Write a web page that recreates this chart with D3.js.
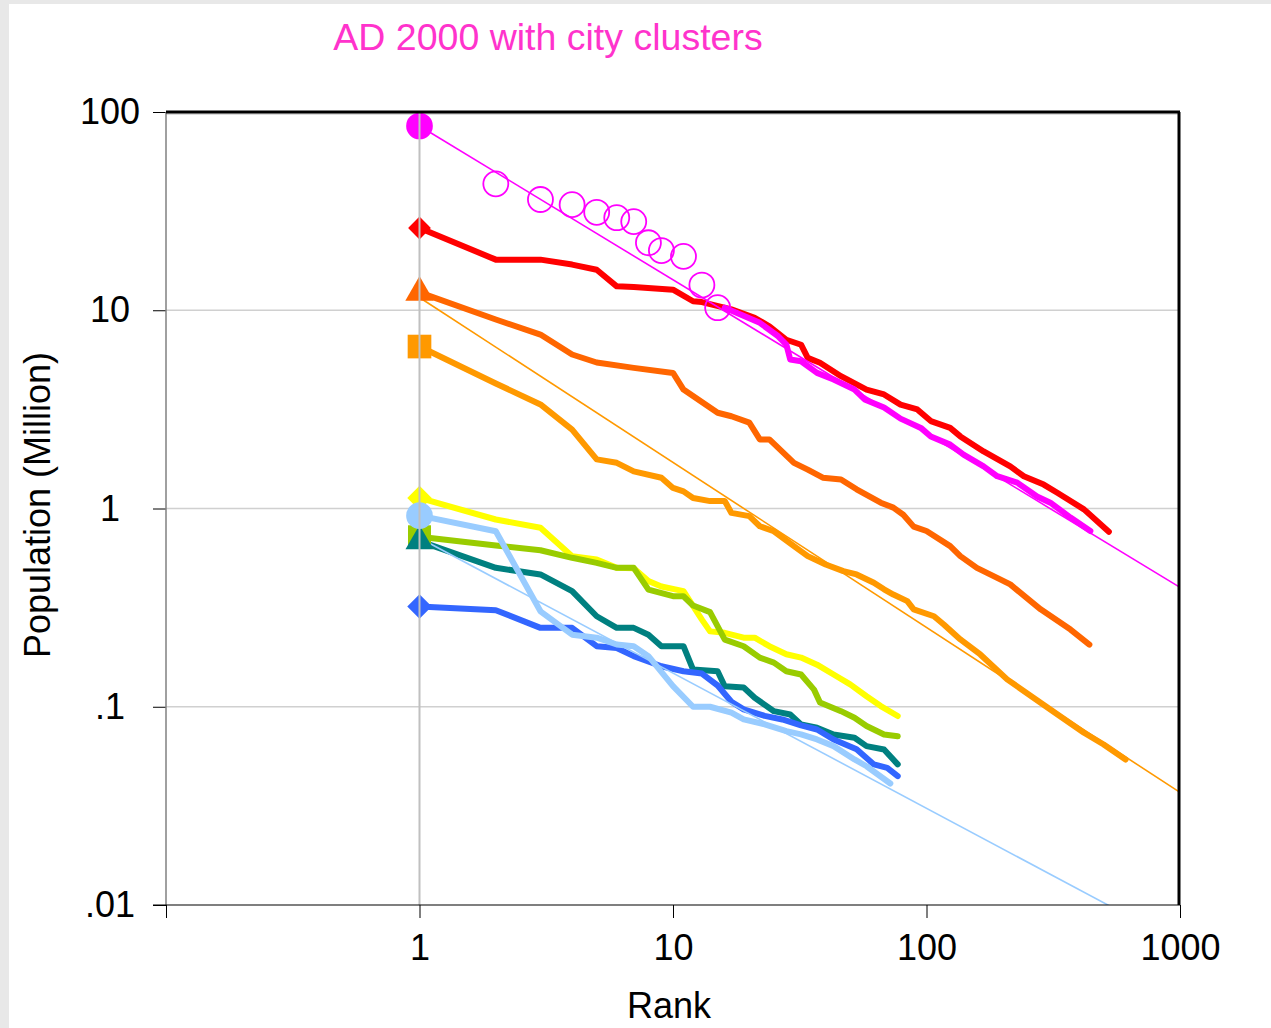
<!DOCTYPE html>
<html>
<head>
<meta charset="utf-8">
<script src="https://cdn.jsdelivr.net/npm/d3@7"></script>
<style>
  body { margin: 0; background: #e8e8e8; }
  svg text { font-family: "Liberation Sans", Arial, sans-serif; }
</style>
</head>
<body>
<svg></svg>
<script>
// tick values and labels
const xTickValues = [0.1, 1, 10, 100, 1000];
const xTickLabels = ["", "1", "10", "100", "1000"];
const yTickValues = [0.01, 0.1, 1, 10, 100];
const yTickLabels = [".01", ".1", "1", "10", "100"];
const gridValues = [0.1, 1, 10];

// [rank, population in million]
const redLine = [[1,26.0],[2,18.0],[3,18.0],[4,17.0],[5,16.0],[6,13.2],[7,13.1],[10,12.7],[12,11.1],[13,11.0],[17,10.1],[21,9.15],[24,8.3],[28,7.1],[32,6.7],[34,5.75],[38,5.43],[46,4.65],[58,3.98],[68,3.76],[79,3.34],[92,3.16],[104,2.76],[124,2.55],[136,2.31],[168,1.94],[214,1.63],[242,1.455],[290,1.32],[328,1.20],[418,0.99],[524,0.763]];
const magentaLine = [[16,10.3],[22,8.64],[26,7.39],[28,6.71],[29,5.64],[32,5.53],[37,4.83],[43,4.47],[52,3.98],[57,3.55],[68,3.23],[79,2.84],[95,2.55],[104,2.31],[124,2.10],[140,1.87],[168,1.63],[190,1.455],[228,1.35],[273,1.15],[308,1.07],[370,0.90],[443,0.77]];
const clusterPoints = [[2,43.4],[3,36.2],[4,34.1],[5,31.2],[6,29.3],[7,28.0],[8,21.9],[9,20.0],[11,18.7],[13,13.4],[15,10.3]];
const topCluster = [1, 85];
const orangeRedLine = [[1,12.3],[2,8.98],[3,7.54],[4,5.98],[5,5.45],[7,5.12],[10,4.83],[11,3.98],[15,3.04],[17,2.92],[20,2.71],[22,2.23],[24,2.23],[30,1.70],[34,1.57],[39,1.43],[46,1.40],[53,1.25],[66,1.07],[74,1.01],[81,0.93],[89,0.81],[100,0.77],[124,0.646],[136,0.575],[158,0.502],[190,0.447],[214,0.414],[282,0.31],[370,0.245],[439,0.206]];
const orangeLine = [[1,6.56],[2,4.27],[3,3.35],[4,2.50],[5,1.77],[6,1.70],[7,1.54],[9,1.43],[10,1.27],[11,1.22],[12,1.13],[14,1.09],[16,1.09],[17,0.95],[20,0.915],[22,0.814],[25,0.768],[30,0.646],[34,0.575],[40,0.522],[47,0.483],[53,0.465],[62,0.422],[68,0.391],[74,0.368],[84,0.341],[89,0.31],[107,0.286],[117,0.26],[136,0.2185],[163,0.1836],[208,0.1374],[308,0.0969],[418,0.0739],[500,0.0645],[610,0.0542]];
const yellowLine = [[1,1.13],[2,0.88],[3,0.80],[4,0.575],[5,0.553],[6,0.502],[7,0.50],[8,0.431],[9,0.404],[11,0.383],[13,0.275],[14,0.24],[16,0.236],[19,0.223],[21,0.223],[24,0.202],[28,0.184],[32,0.177],[37,0.163],[43,0.1455],[50,0.1297],[58,0.113],[66,0.1008],[77,0.0898]];
const greenLine = [[1,0.72],[2,0.65],[3,0.616],[4,0.564],[5,0.532],[6,0.502],[7,0.502],[8,0.39],[10,0.361],[11,0.361],[12,0.324],[14,0.30],[16,0.218],[19,0.202],[22,0.177],[25,0.167],[28,0.151],[32,0.1455],[36,0.122],[38,0.105],[46,0.095],[52,0.088],[58,0.080],[68,0.0725],[77,0.071]];
const tealLine = [[1,0.684],[2,0.502],[3,0.465],[4,0.383],[5,0.286],[6,0.25],[7,0.25],[8,0.231],[9,0.202],[11,0.202],[12,0.154],[15,0.151],[16,0.127],[19,0.125],[21,0.111],[25,0.095],[29,0.0914],[32,0.0815],[37,0.0784],[43,0.0725],[52,0.0698],[58,0.0633],[68,0.0609],[77,0.0512]];
const blueLine = [[1,0.32],[2,0.307],[3,0.25],[4,0.25],[5,0.202],[6,0.198],[7,0.18],[9,0.16],[11,0.151],[13,0.147],[15,0.128],[17,0.106],[19,0.097],[23,0.090],[27,0.0863],[32,0.0805],[37,0.0768],[43,0.0684],[53,0.061],[62,0.0512],[70,0.0492],[77,0.0447]];
const lightBlueLine = [[1,0.92],[2,0.768],[3,0.303],[4,0.231],[5,0.223],[6,0.206],[7,0.202],[8,0.18],[10,0.127],[12,0.10],[14,0.10],[17,0.0933],[19,0.0863],[23,0.0815],[28,0.0753],[32,0.0725],[37,0.0684],[43,0.0633],[52,0.0542],[58,0.0501],[72,0.041]];

// fitted power-law lines (two end points each)
const magentaFit = [[1,85],[1000,0.40]];
const orangeFit = [[1,11.6],[1000,0.037]];
const lightBlueFit = [[1,0.71],[1000,0.0064]];

const svgSize = { width: 1271, height: 1028 };
const plot = { left: 166, right: 1180, top: 112, bottom: 905 };

var svg = d3.select("svg")
   .attr("width", svgSize.width)
   .attr("height", svgSize.height);

// white sheet inside grey frame
svg.append("rect")
   .attr("x", 9).attr("y", 4)
   .attr("width", svgSize.width - 9).attr("height", svgSize.height - 4)
   .attr("fill", "#ffffff");

var x = d3.scaleLog().domain([0.1, 1000]).range([plot.left, plot.right]);
var y = d3.scaleLog().domain([0.01, 100]).range([plot.bottom, plot.top]);

svg.append("clipPath").attr("id", "clip")
   .append("rect")
   .attr("x", plot.left).attr("y", plot.top)
   .attr("width", plot.right - plot.left).attr("height", plot.bottom - plot.top);

// grid lines
svg.append("g")
   .selectAll("line")
   .data(gridValues.concat([100]))
   .enter().append("line")
   .attr("x1", plot.left).attr("x2", plot.right)
   .attr("y1", d => y(d) + (d === 100 ? 2 : 0)).attr("y2", d => y(d) + (d === 100 ? 2 : 0))
   .attr("stroke", "#d0d0d0")
   .attr("stroke-width", 1.5);

// axes
var xAxis = d3.axisBottom(x)
   .tickValues(xTickValues)
   .tickFormat((d, i) => xTickLabels[i])
   .tickSize(13)
   .tickSizeOuter(0)
   .tickPadding(16);
var gx = svg.append("g")
   .attr("transform", `translate(0,${plot.bottom})`)
   .call(xAxis);
gx.select(".domain").remove();
gx.selectAll("line").attr("stroke", "#000").attr("stroke-width", 1);
gx.selectAll("text").attr("font-size", 36).attr("fill", "#000");

var yAxis = d3.axisLeft(y)
   .tickValues(yTickValues)
   .tickFormat((d, i) => yTickLabels[i])
   .tickSize(13)
   .tickSizeOuter(0);
var gy = svg.append("g")
   .attr("transform", `translate(${plot.left},0)`)
   .call(yAxis);
gy.select(".domain").remove();
gy.selectAll("line").attr("stroke", "#000").attr("stroke-width", 1);
gy.selectAll("text")
   .attr("font-size", 36).attr("fill", "#000")
   .attr("text-anchor", "middle")
   .attr("x", -(plot.left - 110));

var line = d3.line()
   .x(d => x(d[0]))
   .y(d => y(d[1]));

var chart = svg.append("g").attr("clip-path", "url(#clip)");

// thick series
var thick = [
  { data: redLine, color: "#ff0000" },
  { data: orangeRedLine, color: "#ff6600" },
  { data: orangeLine, color: "#ff9900" },
  { data: magentaLine, color: "#ff00ff" },
  { data: yellowLine, color: "#ffff00" },
  { data: greenLine, color: "#99cc00" },
  { data: tealLine, color: "#008080" },
  { data: blueLine, color: "#3366ff" },
  { data: lightBlueLine, color: "#99ccff" }
];
chart.selectAll("path.thick")
   .data(thick)
   .enter().append("path")
   .attr("class", "thick")
   .attr("d", d => line(d.data))
   .attr("fill", "none")
   .attr("stroke", d => d.color)
   .attr("stroke-width", 6)
   .attr("stroke-linejoin", "round")
   .attr("stroke-linecap", "round");

// thin fit lines
var fits = [
  { data: orangeFit, color: "#ff9900" },
  { data: magentaFit, color: "#ff00ff" },
  { data: lightBlueFit, color: "#99ccff" }
];
chart.selectAll("path.fit")
   .data(fits)
   .enter().append("path")
   .attr("class", "fit")
   .attr("d", d => line(d.data))
   .attr("fill", "none")
   .attr("stroke", d => d.color)
   .attr("stroke-width", 1.6);

// city cluster circles
svg.append("g")
   .selectAll("circle")
   .data(clusterPoints)
   .enter().append("circle")
   .attr("cx", d => x(d[0]))
   .attr("cy", d => y(d[1]))
   .attr("r", 12.5)
   .attr("fill", "none")
   .attr("stroke", "#ff00ff")
   .attr("stroke-width", 1.8);

// first-rank markers
var diamond = { draw: function(ctx, size) {
  var r = Math.sqrt(size / 2);
  ctx.moveTo(0, -r); ctx.lineTo(r, 0); ctx.lineTo(0, r); ctx.lineTo(-r, 0); ctx.closePath();
}};
var markers = [
  { p: redLine[0], color: "#ff0000", type: diamond, size: 260 },
  { p: orangeRedLine[0], color: "#ff6600", type: d3.symbolTriangle, size: 350 },
  { p: orangeLine[0], color: "#ff9900", type: d3.symbolSquare, size: 560 },
  { p: topCluster, color: "#ff00ff", type: d3.symbolCircle, size: 560 },
  { p: yellowLine[0], color: "#ffff00", type: diamond, size: 300 },
  { p: greenLine[0], color: "#99cc00", type: d3.symbolSquare, size: 530 },
  { p: tealLine[0], color: "#008080", type: d3.symbolTriangle, size: 340 },
  { p: blueLine[0], color: "#3366ff", type: diamond, size: 300 },
  { p: lightBlueLine[0], color: "#99ccff", type: d3.symbolCircle, size: 560 }
];
svg.append("g")
   .selectAll("path")
   .data(markers)
   .enter().append("path")
   .attr("transform", d => `translate(${x(d.p[0])},${y(d.p[1])})`)
   .attr("d", d => d3.symbol().type(d.type).size(d.size)())
   .attr("fill", d => d.color);

// vertical line at rank 1
svg.append("line")
   .attr("x1", x(1)).attr("x2", x(1))
   .attr("y1", plot.top).attr("y2", plot.bottom)
   .attr("stroke", "#c0c0c0")
   .attr("stroke-width", 2);

// frame
svg.append("line")
   .attr("x1", plot.left).attr("x2", plot.left)
   .attr("y1", plot.top).attr("y2", plot.bottom)
   .attr("stroke", "#808080").attr("stroke-width", 1.5);
svg.append("line")
   .attr("x1", plot.left - 13).attr("x2", plot.right)
   .attr("y1", plot.bottom).attr("y2", plot.bottom)
   .attr("stroke", "#000").attr("stroke-width", 1.2);
svg.append("line")
   .attr("x1", plot.left).attr("x2", plot.right)
   .attr("y1", plot.top).attr("y2", plot.top)
   .attr("stroke", "#000").attr("stroke-width", 3);
svg.append("line")
   .attr("x1", plot.right - 1).attr("x2", plot.right - 1)
   .attr("y1", plot.top).attr("y2", plot.bottom)
   .attr("stroke", "#000").attr("stroke-width", 3);

// titles
svg.append("text")
   .attr("x", 548).attr("y", 50)
   .attr("text-anchor", "middle")
   .attr("font-size", 37.5)
   .attr("fill", "#ff33cc")
   .text("AD 2000 with city clusters");

svg.append("text")
   .attr("transform", "translate(50,505) rotate(-90)")
   .attr("text-anchor", "middle")
   .attr("font-size", 36)
   .text("Population (Million)");

svg.append("text")
   .attr("x", 669).attr("y", 1018)
   .attr("text-anchor", "middle")
   .attr("font-size", 36)
   .text("Rank");
</script>
</body>
</html>
